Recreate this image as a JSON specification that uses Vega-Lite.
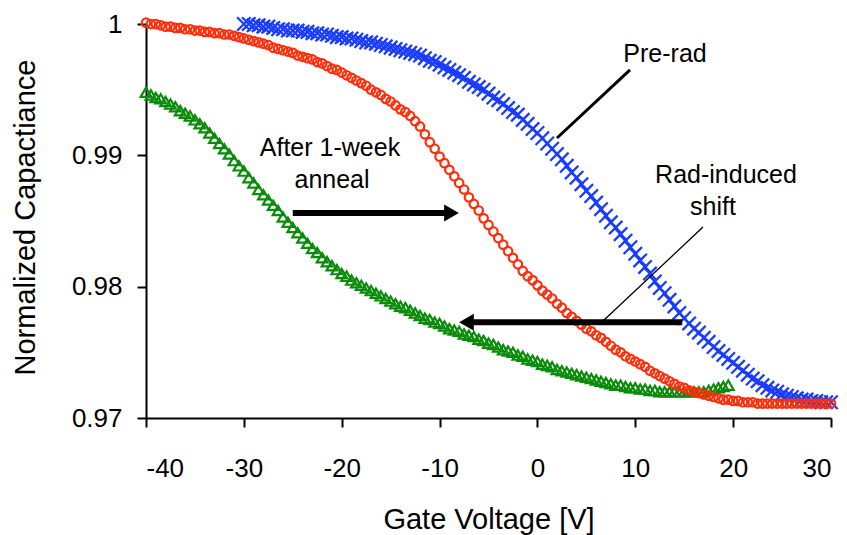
{
  "$schema": "https://vega.github.io/schema/vega-lite/v6.json",
  "width": 685,
  "height": 394,
  "autosize": {"type": "none"},
  "padding": {"left": 146, "top": 24, "right": 16, "bottom": 117},
  "background": "white",
  "config": {
    "view": {"stroke": null},
    "axis": {
      "grid": false,
      "domainColor": "black",
      "domainWidth": 2,
      "tickColor": "black",
      "tickWidth": 2,
      "tickSize": 9,
      "labelFont": "Liberation Sans",
      "labelFontSize": 26,
      "labelColor": "black",
      "titleFont": "Liberation Sans",
      "titleFontSize": 29,
      "titleFontWeight": "normal",
      "titleColor": "black"
    },
    "text": {"font": "Liberation Sans", "fontSize": 25, "color": "black"}
  },
  "datasets": {
    "cv": [
      {"v": -40, "postrad": 0.9948, "anneal": 1.0001},
      {"v": -39.5, "postrad": 0.9946, "anneal": 1.0000},
      {"v": -39, "postrad": 0.9944, "anneal": 1.0000},
      {"v": -38.5, "postrad": 0.9943, "anneal": 0.9999},
      {"v": -38, "postrad": 0.9941, "anneal": 0.9998},
      {"v": -37.5, "postrad": 0.9939, "anneal": 0.9998},
      {"v": -37, "postrad": 0.9937, "anneal": 0.9997},
      {"v": -36.5, "postrad": 0.9934, "anneal": 0.9997},
      {"v": -36, "postrad": 0.9932, "anneal": 0.9996},
      {"v": -35.5, "postrad": 0.9930, "anneal": 0.9996},
      {"v": -35, "postrad": 0.9927, "anneal": 0.9995},
      {"v": -34.5, "postrad": 0.9924, "anneal": 0.9995},
      {"v": -34, "postrad": 0.9921, "anneal": 0.9994},
      {"v": -33.5, "postrad": 0.9917, "anneal": 0.9994},
      {"v": -33, "postrad": 0.9913, "anneal": 0.9993},
      {"v": -32.5, "postrad": 0.9909, "anneal": 0.9993},
      {"v": -32, "postrad": 0.9905, "anneal": 0.9992},
      {"v": -31.5, "postrad": 0.9901, "anneal": 0.9992},
      {"v": -31, "postrad": 0.9896, "anneal": 0.9991},
      {"v": -30.5, "postrad": 0.9892, "anneal": 0.9990},
      {"v": -30, "prerad": 1.0000, "postrad": 0.9888, "anneal": 0.9989},
      {"v": -29.5, "prerad": 1.0000, "postrad": 0.9883, "anneal": 0.9988},
      {"v": -29, "prerad": 0.9999, "postrad": 0.9879, "anneal": 0.9987},
      {"v": -28.5, "prerad": 0.9999, "postrad": 0.9874, "anneal": 0.9986},
      {"v": -28, "prerad": 0.9998, "postrad": 0.9870, "anneal": 0.9985},
      {"v": -27.5, "prerad": 0.9998, "postrad": 0.9866, "anneal": 0.9984},
      {"v": -27, "prerad": 0.9997, "postrad": 0.9862, "anneal": 0.9982},
      {"v": -26.5, "prerad": 0.9996, "postrad": 0.9858, "anneal": 0.9981},
      {"v": -26, "prerad": 0.9996, "postrad": 0.9853, "anneal": 0.9980},
      {"v": -25.5, "prerad": 0.9995, "postrad": 0.9849, "anneal": 0.9979},
      {"v": -25, "prerad": 0.9995, "postrad": 0.9845, "anneal": 0.9978},
      {"v": -24.5, "prerad": 0.9995, "postrad": 0.9841, "anneal": 0.9976},
      {"v": -24, "prerad": 0.9994, "postrad": 0.9837, "anneal": 0.9975},
      {"v": -23.5, "prerad": 0.9994, "postrad": 0.9833, "anneal": 0.9974},
      {"v": -23, "prerad": 0.9993, "postrad": 0.9829, "anneal": 0.9973},
      {"v": -22.5, "prerad": 0.9993, "postrad": 0.9826, "anneal": 0.9971},
      {"v": -22, "prerad": 0.9992, "postrad": 0.9822, "anneal": 0.9970},
      {"v": -21.5, "prerad": 0.9992, "postrad": 0.9819, "anneal": 0.9968},
      {"v": -21, "prerad": 0.9991, "postrad": 0.9816, "anneal": 0.9966},
      {"v": -20.5, "prerad": 0.9990, "postrad": 0.9813, "anneal": 0.9965},
      {"v": -20, "prerad": 0.9990, "postrad": 0.9810, "anneal": 0.9963},
      {"v": -19.5, "prerad": 0.9989, "postrad": 0.9808, "anneal": 0.9961},
      {"v": -19, "prerad": 0.9989, "postrad": 0.9805, "anneal": 0.9959},
      {"v": -18.5, "prerad": 0.9988, "postrad": 0.9803, "anneal": 0.9957},
      {"v": -18, "prerad": 0.9987, "postrad": 0.9801, "anneal": 0.9955},
      {"v": -17.5, "prerad": 0.9986, "postrad": 0.9799, "anneal": 0.9953},
      {"v": -17, "prerad": 0.9986, "postrad": 0.9797, "anneal": 0.9950},
      {"v": -16.5, "prerad": 0.9985, "postrad": 0.9795, "anneal": 0.9948},
      {"v": -16, "prerad": 0.9984, "postrad": 0.9793, "anneal": 0.9946},
      {"v": -15.5, "prerad": 0.9983, "postrad": 0.9791, "anneal": 0.9943},
      {"v": -15, "prerad": 0.9982, "postrad": 0.9789, "anneal": 0.9941},
      {"v": -14.5, "prerad": 0.9981, "postrad": 0.9787, "anneal": 0.9938},
      {"v": -14, "prerad": 0.9980, "postrad": 0.9785, "anneal": 0.9935},
      {"v": -13.5, "prerad": 0.9979, "postrad": 0.9784, "anneal": 0.9933},
      {"v": -13, "prerad": 0.9978, "postrad": 0.9782, "anneal": 0.9930},
      {"v": -12.5, "prerad": 0.9977, "postrad": 0.9780, "anneal": 0.9926},
      {"v": -12, "prerad": 0.9976, "postrad": 0.9778, "anneal": 0.9922},
      {"v": -11.5, "prerad": 0.9974, "postrad": 0.9776, "anneal": 0.9916},
      {"v": -11, "prerad": 0.9972, "postrad": 0.9775, "anneal": 0.9910},
      {"v": -10.5, "prerad": 0.9971, "postrad": 0.9773, "anneal": 0.9905},
      {"v": -10, "prerad": 0.9969, "postrad": 0.9772, "anneal": 0.9899},
      {"v": -9.5, "prerad": 0.9967, "postrad": 0.9770, "anneal": 0.9894},
      {"v": -9, "prerad": 0.9965, "postrad": 0.9768, "anneal": 0.9889},
      {"v": -8.5, "prerad": 0.9963, "postrad": 0.9767, "anneal": 0.9884},
      {"v": -8, "prerad": 0.9961, "postrad": 0.9766, "anneal": 0.9879},
      {"v": -7.5, "prerad": 0.9959, "postrad": 0.9764, "anneal": 0.9874},
      {"v": -7, "prerad": 0.9956, "postrad": 0.9763, "anneal": 0.9868},
      {"v": -6.5, "prerad": 0.9954, "postrad": 0.9762, "anneal": 0.9863},
      {"v": -6, "prerad": 0.9952, "postrad": 0.9760, "anneal": 0.9858},
      {"v": -5.5, "prerad": 0.9950, "postrad": 0.9759, "anneal": 0.9852},
      {"v": -5, "prerad": 0.9947, "postrad": 0.9757, "anneal": 0.9847},
      {"v": -4.5, "prerad": 0.9944, "postrad": 0.9756, "anneal": 0.9842},
      {"v": -4, "prerad": 0.9942, "postrad": 0.9754, "anneal": 0.9837},
      {"v": -3.5, "prerad": 0.9939, "postrad": 0.9752, "anneal": 0.9832},
      {"v": -3, "prerad": 0.9936, "postrad": 0.9751, "anneal": 0.9827},
      {"v": -2.5, "prerad": 0.9933, "postrad": 0.9750, "anneal": 0.9822},
      {"v": -2, "prerad": 0.9931, "postrad": 0.9748, "anneal": 0.9817},
      {"v": -1.5, "prerad": 0.9927, "postrad": 0.9747, "anneal": 0.9812},
      {"v": -1, "prerad": 0.9924, "postrad": 0.9745, "anneal": 0.9808},
      {"v": -0.5, "prerad": 0.9920, "postrad": 0.9744, "anneal": 0.9805},
      {"v": 0, "prerad": 0.9917, "postrad": 0.9743, "anneal": 0.9801},
      {"v": 0.5, "prerad": 0.9913, "postrad": 0.9741, "anneal": 0.9797},
      {"v": 1, "prerad": 0.9909, "postrad": 0.9740, "anneal": 0.9794},
      {"v": 1.5, "prerad": 0.9905, "postrad": 0.9739, "anneal": 0.9791},
      {"v": 2, "prerad": 0.9901, "postrad": 0.9737, "anneal": 0.9787},
      {"v": 2.5, "prerad": 0.9897, "postrad": 0.9736, "anneal": 0.9784},
      {"v": 3, "prerad": 0.9892, "postrad": 0.9735, "anneal": 0.9780},
      {"v": 3.5, "prerad": 0.9887, "postrad": 0.9734, "anneal": 0.9777},
      {"v": 4, "prerad": 0.9883, "postrad": 0.9733, "anneal": 0.9774},
      {"v": 4.5, "prerad": 0.9878, "postrad": 0.9732, "anneal": 0.9771},
      {"v": 5, "prerad": 0.9873, "postrad": 0.9731, "anneal": 0.9768},
      {"v": 5.5, "prerad": 0.9869, "postrad": 0.9730, "anneal": 0.9766},
      {"v": 6, "prerad": 0.9864, "postrad": 0.9729, "anneal": 0.9763},
      {"v": 6.5, "prerad": 0.9859, "postrad": 0.9728, "anneal": 0.9761},
      {"v": 7, "prerad": 0.9854, "postrad": 0.9727, "anneal": 0.9758},
      {"v": 7.5, "prerad": 0.9849, "postrad": 0.9726, "anneal": 0.9755},
      {"v": 8, "prerad": 0.9845, "postrad": 0.9725, "anneal": 0.9752},
      {"v": 8.5, "prerad": 0.9840, "postrad": 0.9725, "anneal": 0.9750},
      {"v": 9, "prerad": 0.9835, "postrad": 0.9724, "anneal": 0.9747},
      {"v": 9.5, "prerad": 0.9830, "postrad": 0.9723, "anneal": 0.9745},
      {"v": 10, "prerad": 0.9825, "postrad": 0.9723, "anneal": 0.9743},
      {"v": 10.5, "prerad": 0.9820, "postrad": 0.9722, "anneal": 0.9741},
      {"v": 11, "prerad": 0.9815, "postrad": 0.9722, "anneal": 0.9739},
      {"v": 11.5, "prerad": 0.9810, "postrad": 0.9721, "anneal": 0.9736},
      {"v": 12, "prerad": 0.9804, "postrad": 0.9721, "anneal": 0.9734},
      {"v": 12.5, "prerad": 0.9799, "postrad": 0.9720, "anneal": 0.9732},
      {"v": 13, "prerad": 0.9795, "postrad": 0.9720, "anneal": 0.9730},
      {"v": 13.5, "prerad": 0.9790, "postrad": 0.9720, "anneal": 0.9728},
      {"v": 14, "prerad": 0.9785, "postrad": 0.9720, "anneal": 0.9726},
      {"v": 14.5, "prerad": 0.9780, "postrad": 0.9720, "anneal": 0.9724},
      {"v": 15, "prerad": 0.9776, "postrad": 0.9720, "anneal": 0.9723},
      {"v": 15.5, "prerad": 0.9772, "postrad": 0.9720, "anneal": 0.9721},
      {"v": 16, "prerad": 0.9768, "postrad": 0.9720, "anneal": 0.9720},
      {"v": 16.5, "prerad": 0.9765, "postrad": 0.9720, "anneal": 0.9719},
      {"v": 17, "prerad": 0.9761, "postrad": 0.9720, "anneal": 0.9718},
      {"v": 17.5, "prerad": 0.9758, "postrad": 0.9721, "anneal": 0.9717},
      {"v": 18, "prerad": 0.9754, "postrad": 0.9722, "anneal": 0.9716},
      {"v": 18.5, "prerad": 0.9751, "postrad": 0.9723, "anneal": 0.9715},
      {"v": 19, "prerad": 0.9748, "postrad": 0.9724, "anneal": 0.9714},
      {"v": 19.5, "prerad": 0.9745, "postrad": 0.9725, "anneal": 0.9714},
      {"v": 20, "prerad": 0.9742, "anneal": 0.9713},
      {"v": 20.5, "prerad": 0.9739, "anneal": 0.9713},
      {"v": 21, "prerad": 0.9736, "anneal": 0.9712},
      {"v": 21.5, "prerad": 0.9733, "anneal": 0.9712},
      {"v": 22, "prerad": 0.9730, "anneal": 0.9712},
      {"v": 22.5, "prerad": 0.9728, "anneal": 0.9711},
      {"v": 23, "prerad": 0.9725, "anneal": 0.9711},
      {"v": 23.5, "prerad": 0.9723, "anneal": 0.9711},
      {"v": 24, "prerad": 0.9721, "anneal": 0.9711},
      {"v": 24.5, "prerad": 0.9720, "anneal": 0.9711},
      {"v": 25, "prerad": 0.9718, "anneal": 0.9711},
      {"v": 25.5, "prerad": 0.9717, "anneal": 0.9711},
      {"v": 26, "prerad": 0.9716, "anneal": 0.9711},
      {"v": 26.5, "prerad": 0.9715, "anneal": 0.9711},
      {"v": 27, "prerad": 0.9714, "anneal": 0.9711},
      {"v": 27.5, "prerad": 0.9714, "anneal": 0.9711},
      {"v": 28, "prerad": 0.9713, "anneal": 0.9711},
      {"v": 28.5, "prerad": 0.9713, "anneal": 0.9711},
      {"v": 29, "prerad": 0.9712, "anneal": 0.9711},
      {"v": 29.5, "prerad": 0.9712, "anneal": 0.9711},
      {"v": 30, "prerad": 0.9712, "anneal": 0.9711}
    ]
  },
  "layer": [
    {
      "data": {"name": "cv"},
      "mark": {"type": "point", "shape": "M-1,-1L1,1M1,-1L-1,1", "filled": false, "stroke": "#1a3cff", "strokeWidth": 2.3, "size": 180, "opacity": 1},
      "encoding": {
        "x": {"field": "v", "type": "quantitative", "scale": {"domain": [-40, 30], "nice": false, "zero": false},
          "axis": {"values": [-40, -30, -20, -10, 0, 10, 20, 30], "labelExpr": "datum.value < 0 ? '-' + abs(datum.value) : '' + datum.value", "title": "Gate Voltage [V]", "labelPadding": 28, "titleY": 110, "titleBaseline": "alphabetic"}},
        "y": {"field": "prerad", "type": "quantitative", "scale": {"domain": [0.97, 1.0], "nice": false, "zero": false},
          "axis": {"values": [0.97, 0.98, 0.99, 1.0], "format": "~g", "title": "Normalized Capactiance", "labelPadding": 15, "titleX": -112, "titleY": 193, "titleBaseline": "alphabetic"}}
      }
    },
    {
      "data": {"name": "cv"},
      "mark": {"type": "point", "shape": "triangle-up", "filled": false, "stroke": "#0a8c0a", "strokeWidth": 2.2, "size": 115, "opacity": 1},
      "encoding": {
        "x": {"field": "v", "type": "quantitative"},
        "y": {"field": "postrad", "type": "quantitative"}
      }
    },
    {
      "data": {"name": "cv"},
      "mark": {"type": "point", "shape": "circle", "filled": false, "stroke": "#ff2d0a", "strokeWidth": 2.2, "size": 72, "opacity": 1},
      "encoding": {
        "x": {"field": "v", "type": "quantitative"},
        "y": {"field": "anneal", "type": "quantitative"}
      }
    },
    {
      "data": {"values": [{"x": -25, "x2": -8.8, "y": 0.98561}, {"x": -7.3, "x2": 14.8, "y": 0.9773}]},
      "mark": {"type": "rule", "color": "black", "strokeWidth": 6},
      "encoding": {
        "x": {"field": "x", "type": "quantitative"},
        "x2": {"field": "x2"},
        "y": {"field": "y", "type": "quantitative"}
      }
    },
    {
      "data": {"values": [{"x": -8.78, "y": 0.98561}]},
      "mark": {"type": "point", "shape": "triangle-right", "filled": true, "color": "black", "size": 289, "opacity": 1},
      "encoding": {
        "x": {"field": "x", "type": "quantitative"},
        "y": {"field": "y", "type": "quantitative"}
      }
    },
    {
      "data": {"values": [{"x": -7.25, "y": 0.9773}]},
      "mark": {"type": "point", "shape": "triangle-left", "filled": true, "color": "black", "size": 289, "opacity": 1},
      "encoding": {
        "x": {"field": "x", "type": "quantitative"},
        "y": {"field": "y", "type": "quantitative"}
      }
    },
    {
      "data": {"values": [{"x": 2.0, "y": 0.99132, "x2": 9.46, "y2": 0.9965}]},
      "mark": {"type": "rule", "color": "black", "strokeWidth": 3},
      "encoding": {
        "x": {"field": "x", "type": "quantitative"},
        "y": {"field": "y", "type": "quantitative"},
        "x2": {"field": "x2"},
        "y2": {"field": "y2"}
      }
    },
    {
      "data": {"values": [{"x": 6.7, "y": 0.97738, "x2": 16.92, "y2": 0.98454}]},
      "mark": {"type": "rule", "color": "black", "strokeWidth": 1.3},
      "encoding": {
        "x": {"field": "x", "type": "quantitative"},
        "y": {"field": "y", "type": "quantitative"},
        "x2": {"field": "x2"},
        "y2": {"field": "y2"}
      }
    },
    {
      "data": {"values": [
        {"x": 13.04, "y": 0.99772, "label": "Pre-rad"},
        {"x": 19.27, "y": 0.9885, "label": "Rad-induced"},
        {"x": 17.94, "y": 0.98606, "label": "shift"},
        {"x": -21.2, "y": 0.99056, "label": "After 1-week"},
        {"x": -20.99, "y": 0.98812, "label": "anneal"}
      ]},
      "mark": {"type": "text", "align": "center", "baseline": "middle"},
      "encoding": {
        "x": {"field": "x", "type": "quantitative"},
        "y": {"field": "y", "type": "quantitative"},
        "text": {"field": "label"}
      }
    }
  ]
}
